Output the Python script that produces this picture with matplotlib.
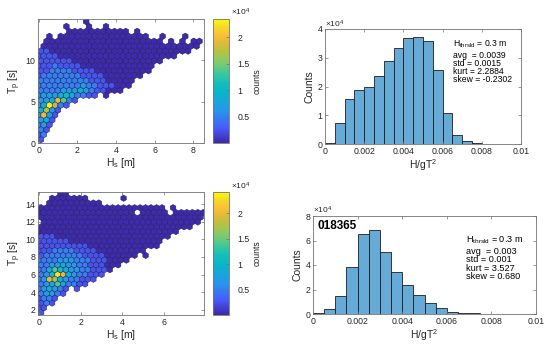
import numpy as np
import matplotlib
matplotlib.use("Agg")
import matplotlib.pyplot as plt
from matplotlib.colors import LinearSegmentedColormap

plt.rcParams["font.family"] = ["Liberation Sans", "DejaVu Sans"]
plt.rcParams["mathtext.default"] = "regular"

# ---- data -------------------------------------------------------------
# hex cells, one string per hex row (bottom row first), one char per cell:
# '.' = empty, digit = count level (see LEVEL_COUNTS)
LEVEL_COUNTS = {"0": 300, "1": 2600, "2": 5000, "3": 7000, "4": 9000,
                "5": 11200, "6": 14000, "7": 17000, "8": 19500, "9": 23000}

TOP_ROWS = [
    "1",
    "12",
    "21",
    "231",
    "341",
    "3831",
    "4731",
    "349721",
    "3348621",
    "23334542211.0",
    "222233343211000",
    "22222222322111000",
    "22222222211100000",
    "1222222211110000000",
    "11222211110000000000",
    "111211110000000000000",
    "1111110000000000000000",
    "1111000000000000000000000",
    "110000000000000000000000000",
    ".0000000000000000000000000000",
    ".000000000000000000000.0.0.00",
    "..0.0000000000000000..0...0",
    ".....00000000000.0",
    ".....0...0..0",
    "........0",
]

BOT_ROWS = [
    "1",
    "11",
    "121",
    "1221",
    "23321",
    "234321.1",
    "234642211",
    "23874322111",
    "235984322111",
    "22465433221110",
    "223343322111000",
    "22223332221110000",
    "122222221111000000.0",
    "11122221111000000000",
    "1111111110000000000000",
    "11111100000000000000000",
    "111000000000000000000000",
    "00000000000000000000000000",
    "0000000000000000000000000000",
    ".00000000000000000000000000000",
    "000000000000000000000000000000",
    "000000000000000000.00000.000000",
    "00000000000000000000000.0",
    "..0000000000",
    "..0000000......0",
    "....00",
]

HIST_EDGES = [0, 0.0005, 0.001, 0.0015, 0.002, 0.0025, 0.003, 0.0035, 0.004,
              0.0045, 0.005, 0.0055, 0.006, 0.0065, 0.007, 0.0075, 0.008, 0.0085]
TOP_HIST = [200, 7300, 15700, 18900, 19800, 23700, 28900, 33400, 36900,
            37300, 35800, 25600, 10900, 3200, 1000, 350, 100]
BOT_HIST = [500, 4200, 15100, 38500, 65500, 68200, 50800, 34600, 23500,
            15700, 9000, 4500, 2000, 800, 500, 200, 0]

TOP_STATS = ["H$_{thrsld}$ = 0.3 m", "avg  = 0.0039", "std = 0.0015",
             "kurt = 2.2884", "skew = -0.2302"]
BOT_STATS = ["H$_{thrsld}$ = 0.3 m", "avg  = 0.003", "std = 0.001",
             "kurt = 3.527", "skew = 0.680"]

# parula-like colormap
PARULA = LinearSegmentedColormap.from_list("parula", [
    (0.000, (0.2422, 0.1504, 0.6603)),
    (0.120, (0.2780, 0.3556, 0.9777)),
    (0.260, (0.1540, 0.5902, 0.9218)),
    (0.400, (0.0325, 0.7066, 0.7969)),
    (0.480, (0.0704, 0.7457, 0.7258)),
    (0.556, (0.2226, 0.7807, 0.6194)),
    (0.619, (0.4112, 0.7973, 0.4839)),
    (0.683, (0.5770, 0.7906, 0.3641)),
    (0.746, (0.7376, 0.7537, 0.2491)),
    (0.810, (0.8750, 0.7314, 0.2190)),
    (0.873, (0.9806, 0.7530, 0.2231)),
    (0.937, (0.9602, 0.8521, 0.1491)),
    (1.000, (0.9763, 0.9831, 0.0538)),
])

W, H = 550, 349
GRAY = "0.45"
TXT = "0.15"


def rect(l, t, r, b):
    return [l / W, 1 - b / H, (r - l) / W, (b - t) / H]


def pt(x, y):
    return x / W, 1 - y / H


def style(ax):
    for s in ax.spines.values():
        s.set_color(GRAY)
        s.set_linewidth(0.6)
    ax.tick_params(direction="in", length=2, width=0.5, colors=GRAY,
                   labelcolor=TXT, labelsize=6.3, top=True, right=True, pad=2)


def hexplot(ax, cax, rows, x0, sx, y0, dy, vmax, xlim, ylim, yticks, cbtxt_y):
    xs, ys, cs = [], [], []
    for k, row in enumerate(rows):
        shift = 0.5 * (k % 2)
        for i, ch in enumerate(row):
            if ch == ".":
                continue
            xs.append(x0 + (i - shift) * sx)
            ys.append(y0 + k * dy)
            cs.append(LEVEL_COUNTS[ch])
    nx, ny = 34, 14
    ext = (x0 - sx, x0 - sx + nx * sx, y0, y0 + ny * 2 * dy)
    hb = ax.hexbin(xs, ys, C=cs, gridsize=(nx, ny), extent=ext,
                   reduce_C_function=np.sum, cmap=PARULA, vmin=100, vmax=vmax,
                   edgecolors="#221d58", linewidths=0.35)
    ax.set_xlim(*xlim)
    ax.set_ylim(*ylim)
    ax.set_xticks([0, 2, 4, 6, 8] if xlim[1] > 8 else [0, 2, 4, 6])
    ax.set_yticks(yticks)
    style(ax)
    ax.set_xlabel("H$_s$ [m]", fontsize=7.5, color=TXT, labelpad=1)
    ax.set_ylabel("T$_p$ [s]", fontsize=7.5, color=TXT, labelpad=2)

    cb = fig.colorbar(hb, cax=cax)
    cb.set_ticks([5000, 10000, 15000, 20000])
    cb.set_ticklabels(["0.5", "1", "1.5", "2"])
    cb.ax.tick_params(direction="in", length=2, width=0.5, colors=GRAY,
                      labelcolor=TXT, labelsize=6.3, pad=6)
    cb.outline.set_edgecolor(GRAY)
    cb.outline.set_linewidth(0.6)
    cb.set_label("counts", fontsize=6.3, color=TXT, labelpad=2)
    fig.text(*pt(231, cbtxt_y), r"$\times10^{4}$", fontsize=6, color=TXT,
             va="baseline")


def histplot(ax, counts, ymax, ystep):
    ax.bar(HIST_EDGES[:-1], counts, width=0.0005, align="edge",
           color="#66aad7", edgecolor="#1c1c1c", linewidth=0.6)
    ax.set_xlim(0, 0.01)
    ax.set_ylim(0, ymax)
    ax.set_xticks([0, 0.002, 0.004, 0.006, 0.008, 0.01])
    ax.set_xticklabels(["0", "0.002", "0.004", "0.006", "0.008", "0.01"])
    ticks = np.arange(0, ymax + 1, ystep)
    ax.set_yticks(ticks)
    ax.set_yticklabels([f"{t / 1e4:g}" for t in ticks])
    style(ax)
    ax.set_xlabel("H/gT$^2$", fontsize=7.5, color=TXT, labelpad=1)
    ax.set_ylabel("Counts", fontsize=7.5, color=TXT, labelpad=2)


fig = plt.figure(figsize=(5.5, 3.49), dpi=100)

# top row
ax1 = fig.add_axes(rect(38, 19, 204, 143))
cax1 = fig.add_axes(rect(213, 19, 229, 143))
hexplot(ax1, cax1, TOP_ROWS, 0.1, 0.294, 0.41, 0.595, 23400,
        (-0.05, 8.57), (0, 15), [0, 5, 10], 15)

ax2 = fig.add_axes(rect(325, 29, 521, 144))
histplot(ax2, TOP_HIST, 40000, 10000)
fig.text(*pt(325, 27), r"$\times10^{4}$", fontsize=6, color=TXT, va="baseline")
for line, yb in zip(TOP_STATS, [46.5, 58.5, 66.2, 73.9, 81.6]):
    fig.text(*pt(452.7, yb), line, fontsize=6.2, color="k", va="baseline")

# bottom row
ax3 = fig.add_axes(rect(38, 192, 204, 315))
cax3 = fig.add_axes(rect(213, 192, 229, 315))
hexplot(ax3, cax3, BOT_ROWS, 0.1, 0.265, 1.7, 0.54, 24100,
        (-0.05, 7.95), (1.43, 15.36), [2, 4, 6, 8, 10, 12, 14], 189)

ax4 = fig.add_axes(rect(313, 216, 536, 314))
histplot(ax4, BOT_HIST, 80000, 20000)
fig.text(*pt(313, 213), r"$\times10^{4}$", fontsize=6, color=TXT, va="baseline")
fig.text(*pt(318, 229.3), "018365", fontsize=8.5, fontweight="bold",
         color="k", va="baseline")
for line, yb in zip(BOT_STATS, [242.0, 254.0, 262.3, 270.6, 278.9]):
    fig.text(*pt(465.7, yb), line, fontsize=6.6, color="k", va="baseline")

fig.savefig("out.png", dpi=100)
